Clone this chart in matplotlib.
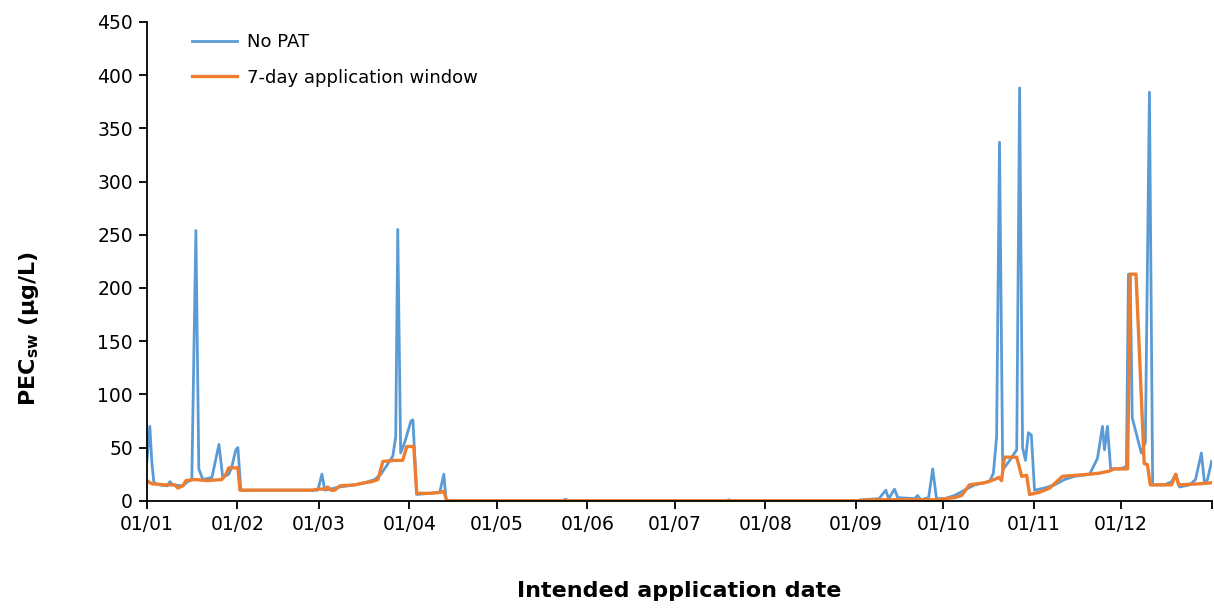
import numpy as np
import matplotlib.pyplot as plt

# Data (day of year, PEC value)

nopat_day = [0, 1.0, 1.7, 2.4, 4.5, 6.9, 7.9, 8.9, 12.3, 14.0, 15.4, 16.8, 17.8, 19.2,
             22.3, 24.7, 26.0, 28.1, 29.1, 30.5, 31.2, 32.2, 56.9, 58.6, 60.0, 61.0,
             62.7, 66.1, 71.3, 74.7, 78.1, 80.2, 82.2, 84.3, 85.3, 86.0, 87.0, 88.4,
             90.5, 91.2, 92.5, 97.0, 100.4, 101.8, 102.5, 103.2, 142.5, 143.5, 144.5,
             198.5, 199.5, 200.5, 243.3, 245, 251, 253.3, 254.3, 256.3, 257.4, 263.2,
             264.2, 265.3, 268, 269.4, 270.7, 273.5, 276.9, 280.3, 283.8, 288.9, 290.2,
             291.3, 292.3, 293.4, 295.8, 298.2, 299.2, 300.2, 301.2, 302.2, 303.2, 304.3,
             307.7, 311.2, 314.6, 318, 323.2, 325.9, 327.6, 328.3, 329.3, 330.4, 333.5,
             335.8, 336.5, 337.1, 337.8, 339.5, 340.9, 342.3, 343.7, 344.8, 348.9, 351.3,
             352.7, 354, 357.5, 359.5, 361.5, 362.6, 363.6, 365]
nopat_val = [37, 70, 36, 17, 15, 14, 18, 15, 14, 18, 20, 254, 30, 20,
             22, 53, 22, 25, 32, 48, 50, 10, 10, 10, 25, 10,
             11, 13, 15, 17, 20, 25, 33, 42, 60, 255, 45, 55,
             75, 76, 6, 7, 8, 25, 3, 0, 0, 1.5, 0,
             0, 1, 0, 0, 1, 2, 10, 2, 11, 3, 2,
             5, 1, 3, 30, 2, 2, 5, 10, 15, 18, 26,
             60, 337, 29, 38, 48, 388, 50, 38, 64, 62, 10,
             12, 15, 20, 23, 25, 40, 70, 48, 70, 30, 30,
             32, 213, 213, 78, 60, 45, 55, 384, 15, 15, 18,
             25, 13, 15, 20, 45, 16, 20, 37]

window_day = [0, 1.7, 6.2, 9.6, 10.6, 12.3, 13.4, 16.5, 20.6, 25.7, 27.1, 28.1, 31.2,
              31.9, 56.9, 58.6, 61.3, 62, 63, 64.4, 66.1, 71.3, 74.7, 77.1, 79.2, 80.9,
              85, 87.7, 89.1, 91.5, 92.5, 97, 100.8, 101.8, 102.8, 243.3, 247.8, 271.8,
              273.5, 276.9, 279.3, 282, 287.2, 290.6, 292, 293, 294, 298.2, 299.9, 301.6,
              302.6, 306, 309.5, 313.9, 323.2, 326.6, 330, 331.6, 336.2, 337.1, 339.1,
              341.9, 343, 344, 351.3, 352.7, 353.7, 360.9, 365]
window_val = [19, 16, 15, 15, 12, 14, 19, 20, 19, 20, 25, 31, 31,
              10, 10, 11, 11, 13, 10, 10, 14, 15, 17, 18, 20, 37,
              38, 38, 51, 51, 7, 7, 8, 9, 0, 0, 1, 1,
              2, 3, 5, 15, 17, 20, 22, 19, 41, 41, 23, 24,
              6, 8, 12, 23, 25, 26, 28, 30, 30, 213, 213,
              35, 34, 15, 15, 25, 15, 16, 17]

month_start = [0, 31, 59, 90, 120, 151, 181, 212, 243, 273, 304, 334, 365]
month_label = ['01/01', '01/02', '01/03', '01/04', '01/05', '01/06', '01/07',
               '01/08', '01/09', '01/10', '01/11', '01/12', '']

# Generate figure

fig = plt.figure(figsize=(12.14, 6.10), dpi=100)
ax = fig.add_axes([0.121, 0.179, 0.877, 0.785])

ax.plot(nopat_day, nopat_val, color='#5B9BD5', linewidth=2.0, label='No PAT')
ax.plot(window_day, window_val, color='#ED7D31', linewidth=2.4,
        label='7-day application window')

# Formatting figure

ax.set_xlim(0, 365)
ax.set_ylim(0, 450)
ax.set_yticks(np.arange(0, 451, 50))
ax.set_xticks(month_start)
ax.set_xticklabels(month_label)
ax.spines['top'].set_visible(False)
ax.spines['right'].set_visible(False)
ax.spines['left'].set_linewidth(1.3)
ax.spines['bottom'].set_linewidth(1.3)
ax.tick_params(axis='both', labelsize=13.5, length=6, width=1.3, direction='out', pad=4)

ax.set_xlabel('Intended application date', fontsize=16, fontweight='bold', labelpad=34)
ax.set_ylabel(r'PEC$_{\mathbf{sw}}$ (µg/L)', fontsize=16, fontweight='bold')
ax.yaxis.set_label_coords(-0.099, 0.36)

ax.legend(loc='upper left', bbox_to_anchor=(0.027, 1.01), frameon=False, fontsize=13,
          handlelength=2.5, handletextpad=0.55, labelspacing=0.95)

plt.savefig('out.png', dpi=100)
